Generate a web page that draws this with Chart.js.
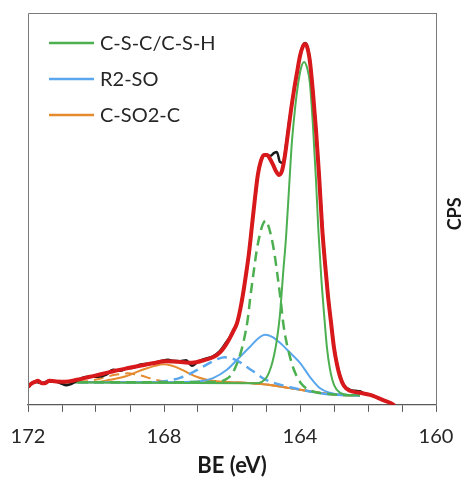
<!DOCTYPE html>
<html>
<head>
<meta charset="utf-8">
<title>S 2p</title>
<script src="https://cdn.jsdelivr.net/npm/chart.js@4.4.1/dist/chart.umd.min.js"></script>
<style>
  html, body { margin: 0; padding: 0; background: #fff; }
  #wrap { width: 463px; height: 479px; }
</style>
</head>
<body>
<div id="wrap"><canvas id="chart" width="463" height="479"></canvas></div>
<script>
// S 2p Spektrum (BE in eV, Intensität willkürlich)

const xTickLabels = [172, 168, 164, 160];

// Messdaten (schwarz)
const beData = [172.00, 171.79, 171.59, 171.38, 171.15, 171.00, 170.88, 170.76, 170.62, 170.41, 170.18, 169.94, 169.71, 169.50, 169.29, 169.09, 168.91, 168.71, 168.47, 168.26, 168.06, 167.88, 167.74, 167.53, 167.35, 167.18, 167.00, 166.79, 166.56, 166.35, 166.18, 166.06, 165.97, 165.85, 165.76, 165.68, 165.59, 165.50, 165.41, 165.32, 165.24, 165.15, 165.06, 164.97, 164.88, 164.76, 164.68, 164.59, 164.50, 164.41, 164.32, 164.26, 164.18, 164.09, 164.00, 163.91, 163.85, 163.79, 163.71, 163.62, 163.53, 163.44, 163.35, 163.26, 163.18, 163.09, 163.00, 162.91, 162.82, 162.71, 162.53, 162.38, 162.24, 162.09, 161.94, 161.71, 161.50, 161.32, 161.21];
const cpsData = [18, 23, 21.5, 24, 23, 21, 19.5, 20.5, 23, 27, 28, 28, 30, 35, 34, 36.5, 37, 40, 41, 42, 44, 45, 44, 43.5, 44.5, 39, 43, 46, 48.5, 54, 62, 68, 74, 82, 95, 110, 130, 152, 180, 208, 230, 244, 250, 250, 249, 252, 253, 243, 242, 260, 283, 296, 314, 332, 349, 360, 362, 359, 345, 314, 276, 231, 180, 141, 111, 84, 58, 41, 29, 20, 15, 14, 13.5, 11, 10, 7, 4, 1.5, -1];

// Fit-Einhüllende (rot)
const beFit = [172.00, 171.91, 171.79, 171.71, 171.59, 171.50, 171.38, 171.21, 170.91, 170.56, 170.18, 169.79, 169.44, 169.09, 168.71, 168.32, 167.97, 167.59, 167.18, 166.79, 166.56, 166.35, 166.18, 166.06, 165.97, 165.85, 165.76, 165.68, 165.59, 165.50, 165.41, 165.32, 165.24, 165.15, 165.06, 164.97, 164.88, 164.79, 164.71, 164.62, 164.53, 164.44, 164.35, 164.26, 164.18, 164.09, 164.00, 163.91, 163.85, 163.79, 163.71, 163.62, 163.53, 163.44, 163.35, 163.26, 163.18, 163.09, 163.00, 162.91, 162.82, 162.71, 162.53, 162.24, 161.94, 161.71, 161.50, 161.32, 161.21];
const cpsFit = [18, 21, 23, 24, 21.5, 21.5, 24, 23.5, 23, 25, 28, 31, 34, 36.5, 39, 41.5, 43.5, 43, 42, 45, 47.5, 52.5, 60, 67, 73, 82, 95, 110, 130, 152, 180, 208, 230, 244, 250, 250, 246, 240, 234, 230, 234, 250, 273, 296, 314, 332, 349, 359, 361, 358, 344, 313, 275, 230, 178, 140, 110, 83, 57, 40, 28, 19, 14, 12, 10, 7, 4, 1.5, -1];

// Untergrund (grau)
const beBg = [171.0, 166.0, 165.5, 165.0, 164.5, 164.0, 163.5, 163.0, 162.6, 162.24];
const cpsBg = [22.5, 22.5, 21.8, 20.3, 17.8, 15.0, 12.3, 10.4, 9.6, 9.4];

// C-S-C/C-S-H 2p3/2 (grün, durchgezogen)
const beCS1 = [171.0, 165.32, 165.12, 164.97, 164.85, 164.76, 164.68, 164.59, 164.50, 164.41, 164.32, 164.24, 164.15, 164.06, 163.97, 163.88, 163.79, 163.71, 163.62, 163.53, 163.46, 163.38, 163.29, 163.21, 163.12, 163.00, 162.82, 162.53, 162.24];
const cpsCS1 = [22.5, 21.6, 23, 28, 38, 50, 65, 90, 130, 168, 218, 262, 295, 320, 337, 343, 337, 322, 280, 225, 175, 130, 90, 58, 36, 20, 12, 9.7, 9.4];

// C-S-C/C-S-H 2p1/2 (grün, gestrichelt)
const beCS2 = [171.0, 166.6, 166.32, 166.18, 166.06, 165.97, 165.90, 165.81, 165.72, 165.63, 165.54, 165.46, 165.37, 165.28, 165.19, 165.10, 165.01, 164.93, 164.84, 164.75, 164.66, 164.57, 164.49, 164.40, 164.31, 164.22, 164.13, 164.04, 163.96, 163.84, 163.69, 163.5, 163.0, 162.6, 162.24];
const cpsCS2 = [22.5, 22.8, 23.5, 25.5, 28.5, 32.5, 37.5, 45, 55, 68, 85, 108, 131, 153, 169, 180, 184.5, 179, 167.5, 151, 129, 105, 81, 63, 50, 39, 31, 25, 21, 17, 14.2, 12.3, 10.4, 9.6, 9.4];

// R2-SO 2p3/2 (blau, durchgezogen)
const beSO1 = [171.0, 168.41, 167.53, 166.94, 166.56, 166.15, 165.85, 165.47, 165.24, 165.03, 164.82, 164.59, 164.29, 164.00, 163.71, 163.41, 163.12, 162.82, 162.24];
const cpsSO1 = [22.5, 22.5, 22.8, 23.5, 26.7, 35, 45, 58, 66, 70, 68, 62, 52, 42, 28, 16.5, 12, 10, 9.4];

// R2-SO 2p1/2 (blau, gestrichelt)
const beSO2 = [171.0, 168.71, 168.12, 167.82, 167.53, 167.24, 166.94, 166.65, 166.41, 166.21, 166.00, 165.76, 165.53, 165.29, 165.06, 164.82, 164.59, 164.29, 164.00, 163.56, 163.12, 162.24];
const cpsSO2 = [22.5, 22.5, 23, 24.5, 27, 31, 36.5, 42, 46, 47.5, 46.5, 42.5, 37, 31.5, 26, 22.5, 20.2, 17.5, 15.3, 12.5, 10.5, 9.4];

// C-SO2-C 2p3/2 (orange, durchgezogen)
const beSO2C1 = [171.0, 170.0, 169.59, 169.29, 169.00, 168.79, 168.50, 168.26, 168.03, 167.76, 167.53, 167.24, 167.00, 166.74, 166.44, 166.06, 165.5, 165.0, 164.5, 164.0, 163.5, 163.0, 162.6, 162.24];
const cpsSO2C1 = [22.5, 22.7, 25, 27, 30, 33, 36.5, 39, 40.5, 39, 36, 31, 27.5, 25, 23.5, 22.5, 21.8, 20.3, 17.8, 15.0, 12.3, 10.4, 9.6, 9.4];

// C-SO2-C 2p1/2 (orange, gestrichelt)
const beSO2C2 = [171.0, 170.76, 170.32, 170.03, 169.74, 169.44, 169.24, 169.06, 168.85, 168.65, 168.41, 168.18, 167.94, 167.68, 166.0, 165.5, 165.0, 164.5, 164.0, 163.5, 163.0, 162.6, 162.24];
const cpsSO2C2 = [22.5, 22.6, 23.5, 25, 27.5, 30, 31, 31.5, 30.5, 29, 26.5, 24.5, 23, 22.5, 22.5, 21.8, 20.3, 17.8, 15.0, 12.3, 10.4, 9.6, 9.4];

// Farben
const colGreen = '#4CAF50';
const colBlue = '#5AA7EE';
const colOrange = '#E58A2E';
const colRed = '#D7191C';
const colBlack = '#1a1a1a';
const colBg = '#A8A49E';

const fontFamily = 'Lato, "Liberation Sans", sans-serif';

function toPoints(xs, ys) {
    return xs.map((x, i) => ({ x: x, y: ys[i] }));
}

function lineSet(label, xs, ys, color, width, dash, order) {
    return {
        label: label,
        data: toPoints(xs, ys),
        borderColor: color,
        backgroundColor: color,
        borderWidth: width,
        borderDash: dash || [],
        pointRadius: 0,
        fill: false,
        cubicInterpolationMode: 'monotone',
        order: order
    };
}

// Legende, Rahmen und "CPS" direkt auf den Canvas zeichnen
const decorPlugin = {
    id: 'decor',
    afterDraw(chart) {
        const ctx = chart.ctx;
        const a = chart.chartArea;
        ctx.save();

        // Rahmen oben/links
        ctx.strokeStyle = '#7a7a7a';
        ctx.lineWidth = 1;
        ctx.beginPath();
        ctx.moveTo(a.left + 0.5, a.bottom);
        ctx.lineTo(a.left + 0.5, a.top + 0.5);
        ctx.lineTo(a.right, a.top + 0.5);
        ctx.stroke();

        // Legende
        const entries = [
            { text: 'C-S-C/C-S-H', color: colGreen },
            { text: 'R2-SO', color: colBlue },
            { text: 'C-SO2-C', color: colOrange }
        ];
        ctx.font = '20px ' + fontFamily;
        ctx.textBaseline = 'middle';
        ctx.textAlign = 'left';
        entries.forEach((e, i) => {
            const y = a.top + 30 + i * 36;
            ctx.strokeStyle = e.color;
            ctx.lineWidth = 2.5;
            ctx.beginPath();
            ctx.moveTo(a.left + 21, y);
            ctx.lineTo(a.left + 66, y);
            ctx.stroke();
            ctx.fillStyle = '#262626';
            ctx.fillText(e.text, a.left + 72, y + 1);
        });

        // Achsentitel rechts
        ctx.translate(455, (a.top + a.bottom) / 2 + 5);
        ctx.rotate(-Math.PI / 2);
        ctx.font = 'bold 18px ' + fontFamily;
        ctx.fillStyle = '#1a1a1a';
        ctx.textAlign = 'center';
        ctx.fillText('CPS', 0, 0);
        ctx.restore();
    }
};

const ctx = document.getElementById('chart').getContext('2d');

new Chart(ctx, {
    type: 'line',
    data: {
        datasets: [
            lineSet('Fit', beFit, cpsFit, colRed, 4, null, 0),
            lineSet('Daten', beData, cpsData, colBlack, 2.5, null, 1),
            lineSet('C-S-C/C-S-H', beCS1, cpsCS1, colGreen, 2, null, 2),
            lineSet('C-S-C/C-S-H 2p1/2', beCS2, cpsCS2, colGreen, 2.5, [10, 6], 3),
            lineSet('R2-SO', beSO1, cpsSO1, colBlue, 2, null, 4),
            lineSet('R2-SO 2p1/2', beSO2, cpsSO2, colBlue, 2.5, [10, 6], 5),
            lineSet('C-SO2-C', beSO2C1, cpsSO2C1, colOrange, 2, null, 6),
            lineSet('C-SO2-C 2p1/2', beSO2C2, cpsSO2C2, colOrange, 2, [10, 6], 7),
            lineSet('Untergrund', beBg, cpsBg, colBg, 2, null, 8)
        ]
    },
    options: {
        responsive: false,
        animation: false,
        layout: { padding: { left: 28, top: 13, right: 27, bottom: 0 } },
        plugins: {
            legend: { display: false },
            tooltip: { enabled: false }
        },
        scales: {
            x: {
                type: 'linear',
                reverse: true,
                min: 160,
                max: 172,
                grid: {
                    display: true,
                    drawOnChartArea: false,
                    drawTicks: true,
                    tickLength: 7,
                    color: '#595959'
                },
                border: { display: true, color: '#595959', width: 1.3 },
                ticks: {
                    stepSize: 1,
                    autoSkip: false,
                    maxRotation: 0,
                    padding: 9,
                    color: '#262626',
                    font: { family: fontFamily, size: 20, lineHeight: 1.6 },
                    callback: (v) => xTickLabels.includes(v) ? String(v) : ''
                },
                title: {
                    display: true,
                    text: 'BE (eV)',
                    color: '#1a1a1a',
                    font: { family: fontFamily, size: 22, weight: 'bold', lineHeight: 1.1 },
                    padding: { top: -8, bottom: 1 }
                }
            },
            y: {
                position: 'right',
                min: 0,
                max: 392,
                grid: { display: false, drawTicks: false },
                border: { display: true, color: '#7a7a7a', width: 1 },
                ticks: { display: false }
            }
        }
    },
    plugins: [decorPlugin]
});
</script>
</body>
</html>
